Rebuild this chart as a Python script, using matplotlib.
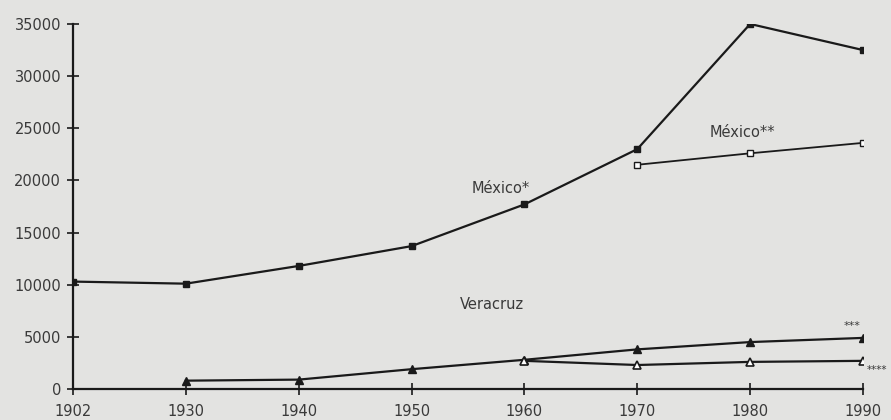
import matplotlib.pyplot as plt
import numpy as np

years = ['1902', '1930', '1940', '1950', '1960', '1970', '1980', '1990']

mexico_1 = [10300, 10100, 11800, 13700, 17700, 23000, 35000, 32500]
mexico_2 = [np.nan, np.nan, np.nan, np.nan, np.nan, 21500, 22600, 23600]
veracruz_1 = [np.nan, 800, 900, 1900, 2800, 3800, 4500, 4900]
veracruz_2 = [np.nan, np.nan, np.nan, np.nan, 2700, 2300, 2600, 2700]

y_ticks = [0, 5000, 10000, 15000, 20000, 25000, 30000, 35000]

bg = '#e3e3e1'
ink = '#1a1a1a'
txt = '#3a3a3a'

fig = plt.figure(figsize=(8.91, 4.2), dpi=100, facecolor=bg)
ax = fig.add_axes([0.0819, 0.0738, 0.8867, 0.8691], facecolor=bg)

x = np.arange(len(years))

ax.plot(x, mexico_1, color=ink, lw=1.6, marker='s', ms=5, mfc=ink, mec=ink)
ax.plot(x, mexico_2, color=ink, lw=1.3, marker='s', ms=5, mfc='white', mec=ink, mew=1)
ax.plot(x, veracruz_1, color=ink, lw=1.6, marker='^', ms=6, mfc=ink, mec=ink)
ax.plot(x, veracruz_2, color=ink, lw=1.6, marker='^', ms=6, mfc='white', mec=ink, mew=1.2)

ax.set_xlim(0, len(years) - 1)
ax.set_ylim(0, 35000)
ax.set_xticks(x)
ax.set_xticklabels(years)
ax.set_yticks(y_ticks)
ax.set_yticklabels([str(v) for v in y_ticks])

for s in ['top', 'right']:
    ax.spines[s].set_visible(False)
for s in ['left', 'bottom']:
    ax.spines[s].set_color(ink)
    ax.spines[s].set_linewidth(1.6)
    ax.spines[s].set_clip_on(False)

ax.tick_params(direction='inout', length=9, width=1.2, color=ink,
               labelsize=10.5, labelcolor=txt, pad=4)
ax.tick_params(axis='x', pad=6)

ax.text(4.05, 18500, 'México*', fontsize=10.5, color=txt, ha='right', va='bottom')
ax.text(5.64, 23900, 'México**', fontsize=10.5, color=txt, ha='left', va='bottom')
ax.text(3.43, 7400, 'Veracruz', fontsize=10.5, color=txt, ha='left', va='bottom')
ax.text(6.83, 5600, '***', fontsize=8, color=txt, ha='left', va='bottom')
ax.text(7.03, 1800, '****', fontsize=7.5, color=txt, ha='left', va='center')

fig.savefig('out.png', dpi=100, facecolor=bg)
